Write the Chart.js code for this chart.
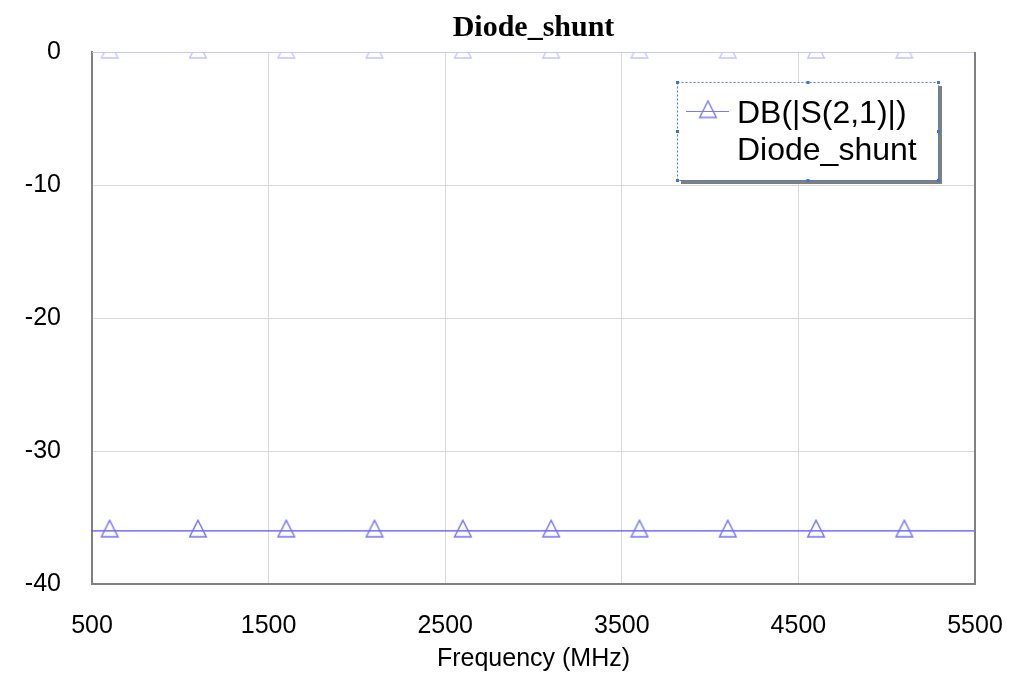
<!DOCTYPE html>
<html>
<head>
<meta charset="utf-8">
<title>Diode_shunt</title>
<script src="https://cdn.jsdelivr.net/npm/chart.js@4.4.0/dist/chart.umd.min.js"></script>
<style>
  html, body { margin: 0; padding: 0; background: #fff; }
  #wrap { width: 1009px; height: 678px; }
</style>
</head>
<body>
<div id="wrap"><canvas id="diodeChart" width="1009" height="678"></canvas></div>
<script>
// sweep points (MHz) and the ones that carry a marker
const freqMHz = [500, 600, 1100, 1600, 2100, 2600, 3100, 3600, 4100, 4600, 5100, 5500];
const markerFreqs = [600, 1100, 1600, 2100, 2600, 3100, 3600, 4100, 4600, 5100];

// DB(|S(2,1)|) for the shunt diode, and the faint trace sitting at 0 dB
const s21Shunt = [-36, -36, -36, -36, -36, -36, -36, -36, -36, -36, -36, -36];
const s21Thru = [0, 0, 0, 0, 0, 0, 0, 0, 0, 0, 0, 0];

const xTicks = [500, 1500, 2500, 3500, 4500, 5500];
const yTicks = [0, -10, -20, -30, -40];

const legendLines = ["DB(|S(2,1)|)", "Diode_shunt"];

// outlined triangle marker, centroid in the middle of the canvas
function makeTriangle(color) {
  const c = document.createElement("canvas");
  c.width = 20;
  c.height = 24;
  const g = c.getContext("2d");
  g.strokeStyle = color;
  g.lineWidth = 1.4;
  g.beginPath();
  g.moveTo(10, 1.5);
  g.lineTo(18.3, 18);
  g.lineTo(1.7, 18);
  g.closePath();
  g.stroke();
  return c;
}

const triShunt = makeTriangle("#6f6fff");
const triThru = makeTriangle("#c4c4ff");
const triLegend = makeTriangle("#7a7aff");

const markerRadius = (ctx) => (markerFreqs.includes(freqMHz[ctx.dataIndex]) ? 9 : 0);

const frame = {
  id: "frame",
  afterDatasetsDraw(chart) {
    const { ctx, chartArea: a } = chart;
    ctx.save();
    ctx.strokeStyle = "#808080";
    ctx.lineWidth = 2;
    ctx.beginPath();
    ctx.moveTo(a.right, a.top);
    ctx.lineTo(a.right, a.bottom);
    ctx.stroke();
    ctx.restore();
  },
};

const boxLegend = {
  id: "boxLegend",
  afterDraw(chart) {
    const { ctx, chartArea: a } = chart;
    const x = a.right - 298, y = a.top + 30, w = 261, h = 98;
    ctx.save();
    // shadow
    ctx.fillStyle = "#7f7f7f";
    ctx.fillRect(x + 4, y + 4, w, h);
    ctx.fillStyle = "#fff";
    ctx.fillRect(x, y, w, h);
    // dotted selection border
    ctx.strokeStyle = "#4a7fd4";
    ctx.lineWidth = 1;
    ctx.setLineDash([2, 2]);
    ctx.strokeRect(x + 0.5, y + 0.5, w, h);
    ctx.setLineDash([]);
    ctx.fillStyle = "#3b73d6";
    [[0, 0], [0.5, 0], [1, 0], [0, 0.5], [1, 0.5], [0, 1], [0.5, 1], [1, 1]].forEach(([fx, fy]) => {
      ctx.fillRect(x + fx * w - 1, y + fy * h - 1, 3, 3);
    });
    // sample line + marker
    ctx.strokeStyle = "#7a7aff";
    ctx.lineWidth = 1.2;
    ctx.beginPath();
    ctx.moveTo(x + 9, y + 29.5);
    ctx.lineTo(x + 52, y + 29.5);
    ctx.stroke();
    ctx.drawImage(triLegend, x + 31 - 10, y + 29.5 - 12);
    // text
    ctx.fillStyle = "#000";
    ctx.font = "32px 'Liberation Sans', Arial, sans-serif";
    ctx.textBaseline = "alphabetic";
    ctx.fillText(legendLines[0], x + 60, y + 41);
    ctx.fillText(legendLines[1], x + 60, y + 78);
    ctx.restore();
  },
};

const tickFont = { family: "'Liberation Sans', Arial, sans-serif", size: 25 };

new Chart(document.getElementById("diodeChart"), {
  type: "line",
  data: {
    labels: freqMHz,
    datasets: [
      {
        label: "DB(|S(2,1)|) thru",
        data: freqMHz.map((f, i) => ({ x: f, y: s21Thru[i] })),
        borderColor: "#c8c8ff",
        borderWidth: 2,
        pointStyle: triThru,
        pointRadius: markerRadius,
        tension: 0,
      },
      {
        label: "DB(|S(2,1)|)",
        data: freqMHz.map((f, i) => ({ x: f, y: s21Shunt[i] })),
        borderColor: "#5252ff",
        borderWidth: 1.2,
        pointStyle: triShunt,
        pointRadius: markerRadius,
        tension: 0,
      },
    ],
  },
  options: {
    responsive: false,
    animation: false,
    devicePixelRatio: 1,
    events: [],
    layout: { padding: { left: 0, right: 34, top: 0, bottom: 0 } },
    plugins: {
      legend: { display: false },
      tooltip: { enabled: false },
      title: {
        display: true,
        text: "Diode_shunt",
        fullSize: false,
        color: "#000",
        font: { family: "'Liberation Serif', 'Times New Roman', serif", size: 30, weight: "bold" },
        padding: { top: 10, bottom: 6 },
      },
    },
    scales: {
      x: {
        type: "linear",
        min: 500,
        max: 5500,
        afterBuildTicks: (s) => { s.ticks = xTicks.map((v) => ({ value: v })); },
        afterFit: (s) => { s.height = 94; s.paddingLeft = 0; s.paddingRight = 0; },
        grid: { color: "#d9d9d9", drawTicks: false },
        border: { color: "#808080", width: 2 },
        ticks: {
          color: "#000", font: tickFont, padding: 27, maxRotation: 0, autoSkip: false,
          callback: (v) => String(v),
        },
        title: {
          display: true,
          text: "Frequency (MHz)",
          color: "#000",
          font: tickFont,
          padding: { top: 0, bottom: 4 },
        },
      },
      y: {
        min: -40,
        max: 0,
        afterBuildTicks: (s) => { s.ticks = yTicks.map((v) => ({ value: v })); },
        afterFit: (s) => { s.width = 92; },
        grid: { color: "#d9d9d9", drawTicks: false },
        border: { color: "#808080", width: 2 },
        ticks: { color: "#000", font: tickFont, padding: 31, callback: (v) => String(v) },
      },
    },
  },
  plugins: [frame, boxLegend],
});
</script>
</body>
</html>
